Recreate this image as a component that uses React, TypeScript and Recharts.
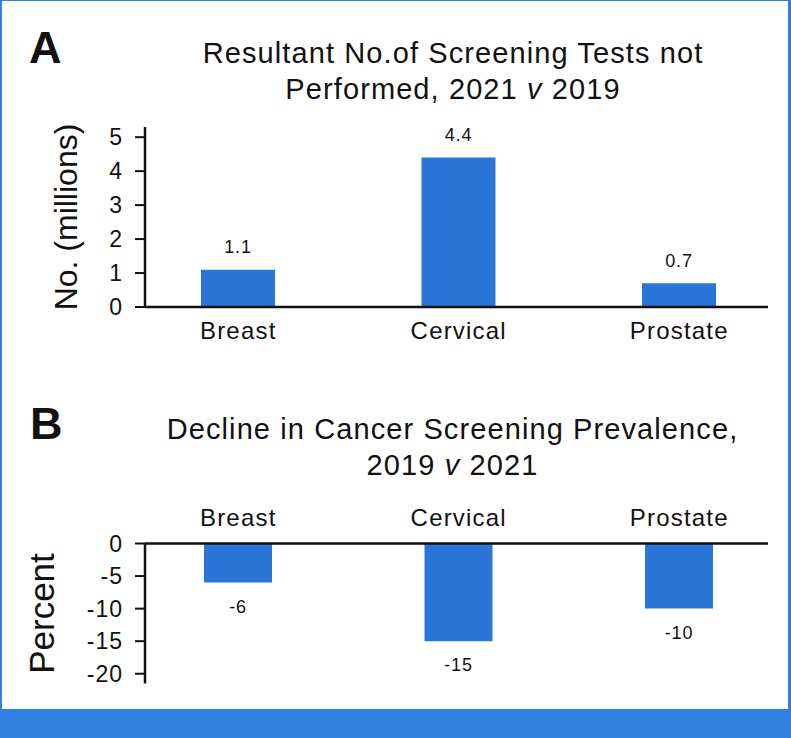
import { BarChart, Bar, XAxis, YAxis, LabelList } from "recharts";

const categories = ["Breast", "Cervical", "Prostate"];
const testsNotPerformed = [1.1, 4.4, 0.7]; // millions
const prevalenceDecline = [-6, -15, -10]; // percent
const ticksA = [0, 1, 2, 3, 4, 5];
const ticksB = [0, -5, -10, -15, -20];

const BLUE = "#2c75d8";
const FRAME = "#2f80e0";
const FONT = "'Liberation Sans', Arial, Helvetica, sans-serif";

const dataA = categories.map((name, i) => ({ name, value: testsNotPerformed[i] }));
const dataB = categories.map((name, i) => ({ name, value: prevalenceDecline[i] }));

const axisLine = { stroke: "#111", strokeWidth: 2.5 };
const tickLine = { stroke: "#111", strokeWidth: 2 };
const catTick = { fill: "#111", fontSize: 24, fontFamily: FONT, letterSpacing: 1.2 };
const numTick = { fill: "#111", fontSize: 23, fontFamily: FONT, letterSpacing: 1 };
const valueLabel = { fill: "#111", fontSize: 18, fontFamily: FONT, letterSpacing: 0.8 };

export default function App() {
  return (
    <div style={{ position: "absolute", left: 0, top: 0, width: 791, height: 738, background: "#fff", fontFamily: FONT, color: "#111" }}>
      {/* frame + bottom band */}
      <div style={{ position: "absolute", inset: 0, borderLeft: `2px solid ${FRAME}`, borderTop: `1px solid ${FRAME}`, borderRight: `3px solid ${FRAME}`, boxSizing: "border-box" }} />
      <div style={{ position: "absolute", left: 0, top: 709, width: 791, height: 29, background: FRAME }} />

      {/* panel A */}
      <div style={{ position: "absolute", left: 29, top: 25, fontSize: 45, fontWeight: 700, lineHeight: 1 }}>A</div>
      <div style={{ position: "absolute", left: 145, top: 35, width: 616, textAlign: "center", fontSize: 29, lineHeight: "36px", letterSpacing: 1.1 }}>
        Resultant No.of Screening Tests not<br />Performed, 2021 <i>v</i> 2019
      </div>
      <div style={{ position: "absolute", left: 0, top: 0 }}>
        <BarChart width={791} height={360} data={dataA} margin={{ top: 127, right: 23, bottom: 13, left: 35 }}>
          <XAxis dataKey="name" axisLine={axisLine} tickLine={false} tickSize={0} tickMargin={15} height={40}
            padding={{ left: -17, right: -21.5 }} tick={catTick} interval={0} />
          <YAxis type="number" domain={[0, 5.3]} ticks={ticksA} allowDataOverflow width={110}
            axisLine={axisLine} tickLine={tickLine} tickSize={10} tickMargin={12} tick={numTick}
            label={{ value: "No. (millions)", angle: -90, position: "insideLeft", offset: 31,
              style: { textAnchor: "middle", fontSize: 32, fontFamily: FONT, fill: "#111" } }} />
          <Bar dataKey="value" fill={BLUE} barSize={74} isAnimationActive={false}>
            <LabelList dataKey="value" position="top" offset={16.5} style={valueLabel} />
          </Bar>
        </BarChart>
      </div>

      {/* panel B */}
      <div style={{ position: "absolute", left: 30, top: 401, fontSize: 45, fontWeight: 700, lineHeight: 1 }}>B</div>
      <div style={{ position: "absolute", left: 145, top: 411, width: 615, textAlign: "center", fontSize: 29, lineHeight: "36px", letterSpacing: 1.1 }}>
        Decline in Cancer Screening Prevalence,<br />2019 <i>v</i> 2021
      </div>
      <div style={{ position: "absolute", left: 0, top: 360 }}>
        <BarChart width={791} height={350} data={dataB} margin={{ top: 143.5, right: 23, bottom: 26.5, left: 35 }}>
          <XAxis dataKey="name" orientation="top" axisLine={axisLine} tickLine={false} tickSize={0} tickMargin={18} height={40}
            padding={{ left: -17, right: -21.5 }} tick={catTick} interval={0} />
          <YAxis type="number" domain={[-21.5, 0]} ticks={ticksB} allowDataOverflow width={110}
            axisLine={axisLine} tickLine={tickLine} tickSize={10} tickMargin={12} tick={numTick}
            label={{ value: "Percent", angle: -90, position: "insideLeft", offset: 7,
              style: { textAnchor: "middle", fontSize: 35, fontFamily: FONT, fill: "#111" } }} />
          <Bar dataKey="value" fill={BLUE} barSize={68} isAnimationActive={false}>
            <LabelList dataKey="value" position="top" offset={17.5} style={valueLabel} />
          </Bar>
        </BarChart>
      </div>
    </div>
  );
}
